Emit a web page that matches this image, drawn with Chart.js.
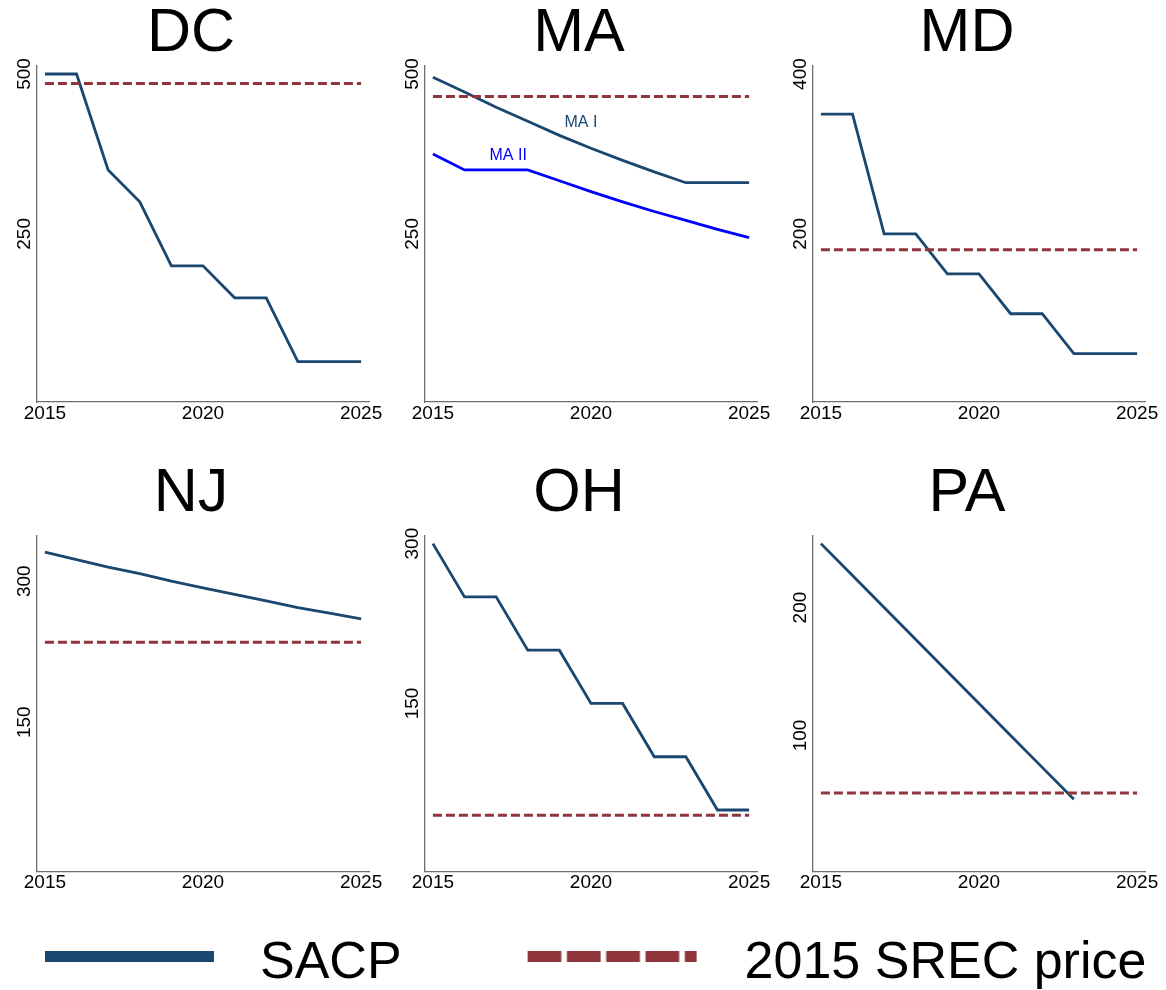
<!DOCTYPE html>
<html>
<head>
<meta charset="utf-8">
<script src="https://cdn.jsdelivr.net/npm/chart.js@4.4.1/dist/chart.umd.min.js"></script>
<style>
html,body{margin:0;padding:0;background:#fff;overflow:hidden;}
#wrap{position:relative;width:1166px;height:990px;overflow:hidden;background:#fff;}
#wrap canvas{position:absolute;}
</style>
</head>
<body>
<div id="wrap">
<canvas id="p0" width="382" height="432" style="left:0px;top:0px"></canvas>
<canvas id="p1" width="382" height="432" style="left:388px;top:0px"></canvas>
<canvas id="p2" width="382" height="432" style="left:776px;top:0px"></canvas>
<canvas id="p3" width="382" height="442" style="left:0px;top:460px"></canvas>
<canvas id="p4" width="382" height="442" style="left:388px;top:460px"></canvas>
<canvas id="p5" width="382" height="442" style="left:776px;top:460px"></canvas>
<canvas id="leg" width="1300" height="170" style="left:-83px;top:927.5px"></canvas>
</div>
<script>
// ---------------- data ----------------
const years = [2015, 2016, 2017, 2018, 2019, 2020, 2021, 2022, 2023, 2024, 2025];
const states = ['DC', 'MA', 'MD', 'NJ', 'OH', 'PA'];

const dcSACP   = [500, 500, 350, 300, 200, 200, 150, 150, 50, 50, 50];
const maISACP  = [495, 472, 448, 426, 404, 384, 365, 347, 330, 330, 330];
const maIISACP = [375, 350, 350, 350, 333, 316, 300, 285, 271, 257, 244];
const mdSACP   = [350, 350, 200, 200, 150, 150, 100, 100, 50, 50, 50];
const njSACP   = [331, 323, 315, 308, 300, 293, 286, 279, 272, 266, 260];
const ohSACP   = [300, 250, 250, 200, 200, 150, 150, 100, 100, 50, 50];
const paSACP   = [250, 225, 200, 175, 150, 125, 100, 75, 50, null, null];

const srecPrice2015 = [485, 465, 180, 235, 45, 55];   // DC, MA, MD, NJ, OH, PA

const xTickValues = [2015, 2020, 2025];
const yTickValues = [[250, 500], [250, 500], [200, 400], [150, 300], [150, 300], [100, 200]];
const yAxisMin = [-13, -13, -10.5, -8.9, -7.9, -6.6];
const yAxisMax = [513, 513, 410.5, 348.9, 307.9, 256.6];

const maSeriesNames = ['MA I', 'MA II'];
const maNameAnchorX = [2019.68, 2017.38];
const maNameAnchorY = [423.5, 372.7];

const legendLabels = ['SACP', '2015 SREC price'];

// ---------------- styles ----------------
const FONT = "'Liberation Sans', Arial, Helvetica, sans-serif";
const NAVY = '#1A476F';
const MAROON = '#90353B';
const BLUE = '#0000FF';
const AXIS = '#6e6e6e';

Chart.defaults.font.family = FONT;

const toPoints = vals => years.map((yr, i) => ({ x: yr, y: vals[i] }));
const flatLine = v => [{ x: years[0], y: v }, { x: years[years.length - 1], y: v }];

const srecDataset = v => ({
  data: flatLine(v), borderColor: MAROON, borderWidth: 3, borderDash: [9, 4],
  pointRadius: 0, fill: false, tension: 0
});
const sacpDataset = (vals, color) => ({
  data: toPoints(vals), borderColor: color || NAVY, borderWidth: 2.8,
  pointRadius: 0, fill: false, tension: 0, spanGaps: false
});

const rotatedYLabels = {
  id: 'rotatedYLabels',
  afterDraw(chart) {
    const s = chart.scales.y, ctx = chart.ctx;
    ctx.save();
    ctx.font = "19px " + FONT;
    ctx.fillStyle = '#000';
    ctx.textAlign = 'center';
    ctx.textBaseline = 'alphabetic';
    s.ticks.forEach(t => {
      const py = s.getPixelForValue(t.value);
      ctx.save();
      ctx.translate(chart.chartArea.left - 7, py);
      ctx.rotate(-Math.PI / 2);
      ctx.fillText(String(t.value), 0, 0);
      ctx.restore();
    });
    ctx.restore();
  }
};

const maSeriesNamePlugin = {
  id: 'maSeriesNames',
  afterDatasetsDraw(chart) {
    const ctx = chart.ctx, sx = chart.scales.x, sy = chart.scales.y;
    const colors = [NAVY, BLUE];
    ctx.save();
    ctx.font = "16px " + FONT;
    ctx.textAlign = 'center';
    ctx.textBaseline = 'middle';
    maSeriesNames.forEach((name, i) => {
      ctx.fillStyle = colors[i];
      ctx.fillText(name, sx.getPixelForValue(maNameAnchorX[i]), sy.getPixelForValue(maNameAnchorY[i]));
    });
    ctx.restore();
  }
};

function makePanel(idx, datasets, extraPlugins) {
  const row = idx < 3 ? 0 : 1;
  const xAxisHeight = row === 0 ? 30 : 30.3;
  return new Chart(document.getElementById('p' + idx), {
    type: 'line',
    data: { datasets },
    options: {
      responsive: false,
      animation: false,
      devicePixelRatio: 1,
      layout: { padding: 0 },
      plugins: {
        legend: { display: false },
        tooltip: { enabled: false },
        title: {
          display: true, text: states[idx], color: '#000',
          font: { family: FONT, size: 61, weight: 'normal', lineHeight: 1 },
          padding: { top: 3.8, bottom: row === 0 ? 0.9 : 10.4 }
        }
      },
      scales: {
        x: {
          type: 'linear', min: 2014.75, max: 2025.25,
          grid: { display: false, drawTicks: false },
          border: { display: true, color: AXIS, width: 1.3 },
          ticks: {
            autoSkip: false, maxRotation: 0, minRotation: 0, padding: 0, color: '#000',
            font: { family: FONT, size: 19, lineHeight: 1.2 },
            callback: v => String(v)
          },
          afterBuildTicks: s => { s.ticks = xTickValues.map(v => ({ value: v })); },
          afterFit: s => { s.height = xAxisHeight; s.paddingLeft = 0; s.paddingRight = 13; }
        },
        y: {
          type: 'linear', min: yAxisMin[idx], max: yAxisMax[idx],
          grid: { display: false, drawTicks: false },
          border: { display: true, color: AXIS, width: 1.3 },
          ticks: { display: false },
          afterBuildTicks: s => { s.ticks = yTickValues[idx].map(v => ({ value: v })); },
          afterFit: s => { s.width = 37; }
        }
      }
    },
    plugins: [rotatedYLabels].concat(extraPlugins || [])
  });
}

makePanel(0, [srecDataset(srecPrice2015[0]), sacpDataset(dcSACP)]);
makePanel(1, [srecDataset(srecPrice2015[1]), sacpDataset(maISACP), sacpDataset(maIISACP, BLUE)], [maSeriesNamePlugin]);
makePanel(2, [srecDataset(srecPrice2015[2]), sacpDataset(mdSACP)]);
makePanel(3, [srecDataset(srecPrice2015[3]), sacpDataset(njSACP)]);
makePanel(4, [srecDataset(srecPrice2015[4]), sacpDataset(ohSACP)]);
makePanel(5, [srecDataset(srecPrice2015[5]), sacpDataset(paSACP)]);

// ---------------- legend ----------------
function legendSwatch(kind) {
  const c = document.createElement('canvas');
  c.width = 307; c.height = 40;
  const g = c.getContext('2d');
  if (kind === 'solid') {
    g.fillStyle = NAVY;
    g.fillRect(118, 7, 169, 11);
  } else {
    g.strokeStyle = MAROON;
    g.lineWidth = 11;
    g.setLineDash([33.7, 5.6]);
    g.beginPath();
    g.moveTo(116, 12.5);
    g.lineTo(285, 12.5);
    g.stroke();
  }
  return c;
}
const swatches = [legendSwatch('solid'), legendSwatch('dash')];

new Chart(document.getElementById('leg'), {
  type: 'line',
  data: {
    datasets: [
      { label: legendLabels[0], data: [], borderColor: NAVY },
      { label: legendLabels[1], data: [], borderColor: MAROON, borderDash: [9, 4] }
    ]
  },
  options: {
    responsive: false,
    animation: false,
    devicePixelRatio: 1,
    layout: { padding: 0 },
    scales: { x: { display: false }, y: { display: false } },
    plugins: {
      tooltip: { enabled: false },
      legend: {
        display: true, position: 'top', align: 'start',
        labels: {
          usePointStyle: true, pointStyleWidth: 307, padding: 10, color: '#000',
          font: { family: FONT, size: 52 },
          generateLabels: () => legendLabels.map((t, i) => ({
            text: t, pointStyle: swatches[i], fillStyle: 'rgba(0,0,0,0)',
            strokeStyle: 'rgba(0,0,0,0)', lineWidth: 0, hidden: false,
            datasetIndex: i, fontColor: '#000'
          }))
        }
      }
    }
  }
});
</script>
</body>
</html>
